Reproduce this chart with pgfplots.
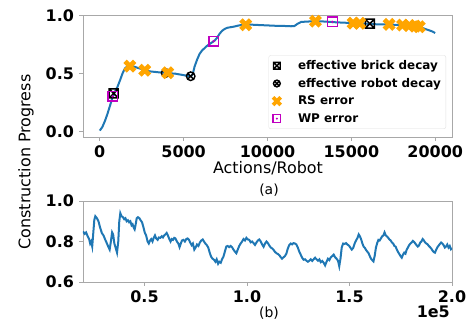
\documentclass[border=0pt]{standalone}
\usepackage{fontspec}
\setmainfont{DejaVu Sans}
\usepackage{pgfplots}
\pgfplotsset{compat=1.18}
\definecolor{mplblue}{HTML}{1F77B4}
\definecolor{rsorange}{HTML}{FFA500}
\definecolor{wpmag}{HTML}{C000C0}
\definecolor{spine}{HTML}{A8A8A8}
\pgfdeclareplotmark{boxtimes}{%
  \pgfpathrectangle{\pgfqpoint{-\pgfplotmarksize}{-\pgfplotmarksize}}{\pgfqpoint{2\pgfplotmarksize}{2\pgfplotmarksize}}%
  \pgfpathmoveto{\pgfqpoint{-\pgfplotmarksize}{-\pgfplotmarksize}}\pgfpathlineto{\pgfqpoint{\pgfplotmarksize}{\pgfplotmarksize}}%
  \pgfpathmoveto{\pgfqpoint{-\pgfplotmarksize}{\pgfplotmarksize}}\pgfpathlineto{\pgfqpoint{\pgfplotmarksize}{-\pgfplotmarksize}}%
  \pgfusepathqstroke}
\pgfdeclareplotmark{otimes}{%
  \pgfpathcircle{\pgfpointorigin}{\pgfplotmarksize}%
  \pgfpathmoveto{\pgfqpoint{-0.707\pgfplotmarksize}{-0.707\pgfplotmarksize}}\pgfpathlineto{\pgfqpoint{0.707\pgfplotmarksize}{0.707\pgfplotmarksize}}%
  \pgfpathmoveto{\pgfqpoint{-0.707\pgfplotmarksize}{0.707\pgfplotmarksize}}\pgfpathlineto{\pgfqpoint{0.707\pgfplotmarksize}{-0.707\pgfplotmarksize}}%
  \pgfusepathqstroke}
\pgfdeclareplotmark{bigX}{%
  \pgfpathmoveto{\pgfqpoint{-0.4596\pgfplotmarksize}{0.9546\pgfplotmarksize}}%
  \pgfpathlineto{\pgfqpoint{0pt}{0.495\pgfplotmarksize}}%
  \pgfpathlineto{\pgfqpoint{0.4596\pgfplotmarksize}{0.9546\pgfplotmarksize}}%
  \pgfpathlineto{\pgfqpoint{0.9546\pgfplotmarksize}{0.4596\pgfplotmarksize}}%
  \pgfpathlineto{\pgfqpoint{0.495\pgfplotmarksize}{0pt}}%
  \pgfpathlineto{\pgfqpoint{0.9546\pgfplotmarksize}{-0.4596\pgfplotmarksize}}%
  \pgfpathlineto{\pgfqpoint{0.4596\pgfplotmarksize}{-0.9546\pgfplotmarksize}}%
  \pgfpathlineto{\pgfqpoint{0pt}{-0.495\pgfplotmarksize}}%
  \pgfpathlineto{\pgfqpoint{-0.4596\pgfplotmarksize}{-0.9546\pgfplotmarksize}}%
  \pgfpathlineto{\pgfqpoint{-0.9546\pgfplotmarksize}{-0.4596\pgfplotmarksize}}%
  \pgfpathlineto{\pgfqpoint{-0.495\pgfplotmarksize}{0pt}}%
  \pgfpathlineto{\pgfqpoint{-0.9546\pgfplotmarksize}{0.4596\pgfplotmarksize}}%
  \pgfpathclose
  \pgfusepathqfill}
\pgfdeclareplotmark{sqdot}{%
  \pgfpathrectangle{\pgfqpoint{-\pgfplotmarksize}{-\pgfplotmarksize}}{\pgfqpoint{2\pgfplotmarksize}{2\pgfplotmarksize}}%
  \pgfusepathqstroke
  \pgfpathcircle{\pgfpointorigin}{0.28\pgfplotmarksize}%
  \pgfusepathqfill}
\newcommand{\tickfont}{\fontsize{16}{19}\selectfont\bfseries}
\begin{document}
\begin{tikzpicture}
\useasboundingbox (-83bp,-185bp) rectangle (390bp,137bp);
\pgfplotsset{every axis/.append style={
  scale only axis, tick align=outside, tick pos=left,
  scaled x ticks=false, scaled y ticks=false,
  major tick length=3.5bp,
  axis line style={spine, line width=0.9bp},
  every tick/.style={spine, line width=0.9bp},
  ticklabel style={font=\tickfont, text=black},
  xticklabel style={yshift=-2bp},
  yticklabel style={xshift=-2bp},
}}
\begin{axis}[at={(0,0)}, anchor=south west, width=369bp, height=122bp,
  xmin=-1000, xmax=21000, ymin=-0.045, ymax=1.005,
  xtick={0,5000,10000,15000,20000}, xticklabels={0,5000,10000,15000,20000},
  ytick={0,0.5,1}, yticklabels={0.0,0.5,1.0},
  legend cell align=left,
  legend style={at={(0.984,0.67)}, anchor=north east, draw=black!12, rounded corners=2bp,
    font=\fontsize{12}{14}\selectfont\bfseries, row sep=3.2bp, inner xsep=3bp, inner ysep=3bp,
    /tikz/every odd column/.append style={column sep=14bp}},
]
\addplot[mplblue, line width=2bp, forget plot] coordinates {
(0,0.010) (150,0.040) (300,0.090) (450,0.150) (600,0.220) (750,0.290) (900,0.345)
(1050,0.385) (1200,0.440) (1350,0.500) (1500,0.545) (1650,0.565) (1800,0.570)
(1950,0.565) (2100,0.558) (2300,0.548) (2500,0.540) (2700,0.530) (2900,0.522)
(3100,0.518) (3300,0.515) (3500,0.512) (3700,0.510) (3900,0.508) (4100,0.505)
(4300,0.502) (4500,0.500) (4700,0.495) (4900,0.490) (5100,0.485) (5300,0.480)
(5450,0.478) (5550,0.500) (5650,0.560) (5800,0.620) (5950,0.670) (6100,0.700)
(6250,0.720) (6400,0.740) (6550,0.755) (6700,0.770) (6850,0.785) (7000,0.810)
(7150,0.845) (7300,0.870) (7450,0.885) (7600,0.895) (7800,0.900) (8000,0.905)
(8200,0.912) (8400,0.918) (8600,0.920) (8800,0.923) (9000,0.922) (9300,0.920)
(9600,0.918) (9900,0.916) (10200,0.914) (10500,0.912) (10800,0.912) (11100,0.910)
(11400,0.908) (11600,0.910) (11800,0.930) (12000,0.945) (12300,0.948) (12600,0.950)
(12900,0.952) (13200,0.950) (13500,0.948) (13800,0.945) (14100,0.942) (14400,0.940)
(14700,0.938) (15000,0.935) (15300,0.935) (15600,0.932) (15900,0.930) (16200,0.928)
(16500,0.925) (16800,0.925) (17100,0.925) (17400,0.922) (17700,0.920) (18000,0.918)
(18300,0.915) (18600,0.912) (18900,0.905) (19200,0.895) (19500,0.880) (19800,0.865)
(20000,0.850)};
\addplot[only marks, black, line width=1.5bp, mark=boxtimes, mark size=4.5bp,
  legend image post style={mark size=3.4bp, line width=1.4bp}] coordinates {(830,0.33) (16100,0.930)};
\addlegendentry{effective brick decay}
\addplot[only marks, black, line width=1.4bp, mark=otimes, mark size=4.3bp,
  legend image post style={mark size=3.4bp, line width=1.4bp}] coordinates {(3930,0.506) (5420,0.478)};
\addlegendentry{effective robot decay}
\addplot[only marks, rsorange, mark=bigX, mark size=6.8bp,
  legend image post style={mark size=5.4bp}] coordinates {
(1790,0.565) (2680,0.530) (4050,0.508) (8700,0.921) (12860,0.952) (15100,0.935)
(15500,0.933) (17250,0.924) (18050,0.918) (18450,0.914) (18800,0.910) (19050,0.904)};
\addlegendentry{RS error}
\addplot[only marks, wpmag, line width=1.3bp, mark=sqdot, mark size=4.8bp,
  legend image post style={mark size=3.8bp, line width=1.2bp}] coordinates {(770,0.305) (6790,0.78) (13870,0.946)};
\addlegendentry{WP error}
\end{axis}
\begin{axis}[at={(0,-145bp)}, anchor=south west, width=369bp, height=81bp,
  xmin=20000, xmax=200000, ymin=0.6, ymax=1.0,
  xtick={50000,100000,150000,200000}, xticklabels={0.5,1.0,1.5,2.0},
  ytick={0.6,0.8,1.0}, yticklabels={0.6,0.8,1.0},
]
\addplot[mplblue, line width=2bp] coordinates {
(20000,0.850) (20800,0.838) (21500,0.845) (22200,0.828) (23000,0.812) (23500,0.790)
(24000,0.800) (24500,0.776) (25000,0.840) (25500,0.905) (26000,0.925) (26800,0.915)
(27600,0.898) (28300,0.870) (29200,0.842) (30000,0.830) (30800,0.810) (31600,0.792)
(32300,0.775) (33000,0.760) (33600,0.800) (34200,0.845) (34700,0.835) (35300,0.790)
(35900,0.770) (36600,0.745) (37200,0.800) (37700,0.900) (38200,0.940) (38800,0.925)
(39500,0.920) (40100,0.910) (40700,0.915) (41300,0.900) (41900,0.905) (42500,0.895)
(43100,0.900) (43700,0.880) (44200,0.885) (44700,0.870) (45200,0.860) (45700,0.885)
(46200,0.915) (46800,0.920) (47500,0.915) (48100,0.905) (48800,0.895) (49500,0.870)
(50100,0.845) (50800,0.830) (51500,0.800) (52100,0.790) (52700,0.805) (53300,0.812)
(53900,0.800) (54500,0.818) (55100,0.830) (55700,0.815) (56400,0.808) (57000,0.820)
(57700,0.818) (58400,0.826) (59000,0.820) (59600,0.830) (60200,0.835) (60800,0.842)
(61400,0.830) (62000,0.815) (62700,0.800) (63300,0.812) (63900,0.808) (64500,0.818)
(65100,0.815) (65800,0.800) (66500,0.790) (67100,0.772) (67700,0.790) (68300,0.805)
(69000,0.808) (69700,0.800) (70400,0.812) (71000,0.815) (71700,0.808) (72300,0.795)
(73000,0.782) (73600,0.790) (74300,0.760) (74900,0.770) (75600,0.785) (76300,0.778)
(77000,0.795) (77700,0.805) (78400,0.810) (79000,0.800) (79700,0.790) (80400,0.782)
(81100,0.770) (81800,0.745) (82500,0.725) (83200,0.715) (83900,0.710) (84600,0.700)
(85200,0.712) (85900,0.690) (86500,0.700) (87200,0.695) (87800,0.712) (88500,0.725)
(89200,0.750) (89900,0.775) (90600,0.778) (91300,0.772) (92000,0.778) (92700,0.772)
(93400,0.760) (94100,0.750) (94800,0.742) (95500,0.760) (96200,0.778) (96900,0.790)
(97600,0.800) (98300,0.812) (99000,0.805) (99700,0.818) (100400,0.810) (101100,0.808)
(101800,0.796) (102500,0.800) (103200,0.792) (103900,0.783) (104600,0.795) (105300,0.805)
(106000,0.810) (106700,0.800) (107400,0.785) (108100,0.774) (108800,0.790) (109500,0.800)
(110200,0.792) (110900,0.780) (111600,0.770) (112300,0.766) (113000,0.758) (113700,0.748)
(114400,0.742) (115100,0.738) (115800,0.732) (116500,0.722) (117100,0.715) (117800,0.722)
(118500,0.728) (119200,0.740) (119900,0.765) (120600,0.782) (121300,0.790) (122000,0.786)
(122700,0.792) (123400,0.790) (124100,0.785) (124800,0.770) (125500,0.750) (126200,0.735)
(126900,0.720) (127600,0.710) (128300,0.712) (129000,0.705) (129700,0.700) (130400,0.705)
(131100,0.712) (131800,0.704) (132500,0.712) (133200,0.720) (133900,0.712) (134600,0.705)
(135300,0.712) (136000,0.698) (136700,0.704) (137400,0.695) (138100,0.682) (138800,0.700)
(139500,0.715) (140200,0.708) (140900,0.722) (141600,0.728) (142300,0.735) (143000,0.722)
(143700,0.715) (144400,0.705) (145000,0.678) (145600,0.715) (146200,0.770) (146900,0.790)
(147600,0.788) (148300,0.792) (149000,0.785) (149700,0.780) (150400,0.770) (151100,0.760)
(151800,0.768) (152500,0.790) (153200,0.805) (153900,0.818) (154500,0.835) (155100,0.825)
(155700,0.810) (156300,0.790) (156900,0.775) (157500,0.768) (158100,0.758) (158700,0.750)
(159300,0.742) (159900,0.728) (160500,0.715) (161100,0.708) (161700,0.702) (162300,0.730)
(162900,0.770) (163500,0.792) (164100,0.808) (164700,0.805) (165300,0.815) (165900,0.825)
(166500,0.830) (167100,0.845) (167700,0.830) (168300,0.825) (168900,0.818) (169500,0.810)
(170100,0.805) (170700,0.795) (171300,0.790) (171900,0.778) (172500,0.775) (173100,0.760)
(173700,0.748) (174300,0.738) (174900,0.728) (175500,0.720) (176100,0.735) (176700,0.745)
(177300,0.740) (177900,0.760) (178500,0.770) (179100,0.782) (179700,0.790) (180300,0.795)
(180900,0.803) (181500,0.798) (182100,0.790) (182700,0.782) (183300,0.775) (183900,0.780)
(184500,0.795) (185100,0.800) (185700,0.812) (186300,0.805) (186900,0.795) (187500,0.790)
(188100,0.786) (188700,0.778) (189300,0.772) (189900,0.765) (190500,0.755) (191100,0.748)
(191700,0.745) (192300,0.760) (192900,0.772) (193500,0.780) (194100,0.788) (194700,0.795)
(195300,0.790) (195900,0.782) (196500,0.770) (197100,0.775) (197700,0.785) (198300,0.770)
(198900,0.778) (199500,0.762) (200000,0.768)};
\end{axis}
\node[rotate=90, font=\fontsize{16}{19}\selectfont] at (-57bp,-25bp) {Construction Progress};
\node[font=\fontsize{16}{19}\selectfont] at (185bp,-31bp) {Actions/Robot};
\node[font=\fontsize{14}{17}\selectfont] at (186bp,-53bp) {(a)};
\node[font=\fontsize{14}{17}\selectfont] at (186bp,-176bp) {(b)};
\node[font=\tickfont, anchor=east, inner sep=0pt] at (367bp,-175bp) {1e5};
\end{tikzpicture}
\end{document}
